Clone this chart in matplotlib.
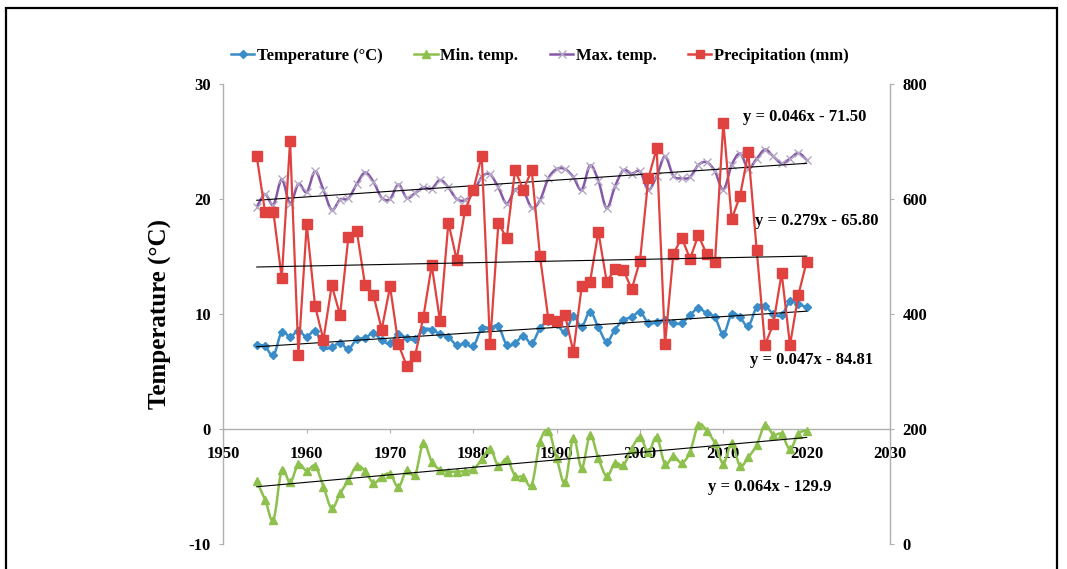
import numpy as np
import matplotlib
matplotlib.use("Agg")
import matplotlib.pyplot as plt
from matplotlib.path import Path
from matplotlib.patches import PathPatch, Rectangle
from matplotlib.lines import Line2D

plt.rcParams['font.family'] = ['Liberation Serif', 'DejaVu Serif']
plt.rcParams['font.weight'] = 'bold'
plt.rcParams['axes.unicode_minus'] = False

years = np.arange(1954, 2021)

temperature = [7.3, 7.2, 6.4, 8.45, 8.0, 8.55, 8.0, 8.55, 7.1, 7.1, 7.5, 6.95, 7.8, 7.9, 8.35, 7.7, 7.45,
               8.25, 7.9, 7.8, 8.65, 8.65, 8.25, 8.0, 7.3, 7.45, 7.2, 8.75, 8.75, 8.95, 7.3, 7.45, 8.1, 7.45,
               8.75, 9.4, 9.1, 8.45, 9.8, 8.9, 10.2, 8.85, 7.6, 8.65, 9.5, 9.7, 10.2, 9.2, 9.3, 9.5, 9.2,
               9.2, 9.9, 10.5, 10.05, 9.7, 8.25, 10.0, 9.7, 8.95, 10.6, 10.7, 10.0, 9.9, 11.1, 10.85, 10.6]

min_temp = [-4.55, -6.15, -7.9, -3.55, -4.65, -3.05, -3.65, -3.2, -5.0, -6.9, -5.6, -4.45, -3.2, -3.65, -4.7, -4.15, -3.9,
            -5.05, -3.55, -4.0, -1.2, -2.85, -3.55, -3.7, -3.7, -3.65, -3.5, -2.65, -1.7, -3.2, -2.6, -4.05, -4.15, -4.85,
            -1.1, -0.15, -2.55, -4.65, -0.75, -3.4, -0.55, -2.55, -4.1, -2.95, -3.15, -1.7, -0.7, -2.0, -0.7, -3.05, -2.35,
            -2.95, -2.0, 0.35, -0.15, -1.25, -3.0, -1.25, -3.2, -2.45, -1.4, 0.35, -0.5, -0.45, -1.75, -0.4, -0.15]

max_temp = [19.3, 20.4, 19.5, 21.7, 19.6, 21.3, 20.6, 22.4, 20.8, 19.05, 19.95, 20.05, 21.3, 22.3, 21.5, 20.1, 20.0,
            21.25, 20.1, 20.5, 21.0, 20.9, 21.65, 21.0, 20.0, 19.9, 20.6, 21.9, 22.15, 21.0, 19.6, 20.8, 20.7, 19.25,
            19.9, 21.8, 22.6, 22.6, 21.9, 20.8, 22.9, 21.6, 19.2, 21.1, 22.5, 22.2, 22.4, 20.8, 22.0, 23.7, 22.0,
            21.8, 21.9, 22.95, 23.2, 22.4, 20.8, 22.95, 23.95, 22.65, 23.5, 24.3, 23.7, 23.1, 23.5, 24.0, 23.4]

precipitation = [674, 577, 577, 462, 701, 329, 556, 414, 355, 450, 398, 534, 545, 450, 433, 373, 448,
                 347, 310, 327, 395, 485, 387, 559, 494, 581, 616, 675, 347, 558, 532, 650, 616, 650,
                 500, 391, 387, 398, 334, 448, 456, 543, 456, 478, 477, 443, 493, 636, 688, 347, 504,
                 533, 496, 537, 504, 491, 733, 565, 605, 681, 512, 346, 383, 471, 346, 433, 491]

series_names = ["Temperature (°C)", "Min. temp.", "Max. temp.", "Precipitation (mm)"]
equations = ["y = 0.046x - 71.50", "y = 0.279x - 65.80", "y = 0.047x - 84.81", "y = 0.064x - 129.9"]
x_ticks = [1950, 1960, 1970, 1980, 1990, 2000, 2010, 2020, 2030]
left_ticks = [-10, 0, 10, 20, 30]
right_ticks = [0, 200, 400, 600, 800]

C_BLUE = '#3A8DC8'
C_GREEN = '#8DC04C'
C_PURPLE = '#8559A8'
C_PURPLE_MK = '#B3A6C4'
C_RED = '#E0423F'
C_AXIS = '#B0B0B0'


def smooth_path(x, y):
    """Smoothed (Catmull-Rom style) line through the data points, like Excel's smoothed line."""
    x = np.asarray(x, float)
    y = np.asarray(y, float)
    n = len(x)
    verts = [(x[0], y[0])]
    codes = [Path.MOVETO]
    for i in range(n - 1):
        p0 = i - 1 if i > 0 else i
        p3 = i + 2 if i + 2 < n else i + 1
        c1 = (x[i] + (x[i + 1] - x[p0]) / 6, y[i] + (y[i + 1] - y[p0]) / 6)
        c2 = (x[i + 1] - (x[p3] - x[i]) / 6, y[i + 1] - (y[p3] - y[i]) / 6)
        verts += [c1, c2, (x[i + 1], y[i + 1])]
        codes += [Path.CURVE4] * 3
    return Path(verts, codes)


fig = plt.figure(figsize=(10.67, 5.69), dpi=100)
ax = fig.add_axes([0.2094, 0.0439, 0.8341 - 0.2094, 0.8524 - 0.0439])
ax2 = ax.twinx()

# Left axis series
for vals, col, mk, ms, mcol in [(max_temp, C_PURPLE, 'x', 6, C_PURPLE_MK),
                                (temperature, C_BLUE, 'D', 4.5, C_BLUE),
                                (min_temp, C_GREEN, '^', 6, C_GREEN)]:
    ax.add_patch(PathPatch(smooth_path(years, vals), fill=False, edgecolor=col, lw=1.8, zorder=3))
    ax.plot(years, vals, linestyle='none', marker=mk, ms=ms, color=mcol, mec=mcol, mew=1.0, zorder=4)
    k, b = np.polyfit(years, vals, 1)
    ax.plot([years[0], years[-1]], [k * years[0] + b, k * years[-1] + b], color='black', lw=0.8, zorder=5)

# Precipitation on right axis
ax2.plot(years, precipitation, color=C_RED, lw=1.6, marker='s', ms=6.5, mec=C_RED, zorder=3)
k, b = np.polyfit(years, precipitation, 1)
ax2.plot([years[0], years[-1]], [k * years[0] + b, k * years[-1] + b], color='black', lw=0.8, zorder=5)

ax.set_xlim(1950, 2030)
ax.set_ylim(-10, 30)
ax2.set_ylim(0, 800)
ax.set_xticks(x_ticks)
ax.set_xticklabels([str(t) for t in x_ticks])
ax.set_yticks(left_ticks)
ax.set_yticklabels([str(t) for t in left_ticks])
ax2.set_yticks(right_ticks)
ax2.set_yticklabels([str(t) for t in right_ticks])

for a in (ax, ax2):
    a.patch.set_visible(False)
    a.spines['top'].set_visible(False)
    for s in a.spines.values():
        s.set_color(C_AXIS)
        s.set_linewidth(1.0)
ax.spines['right'].set_visible(False)
ax2.spines['left'].set_visible(False)
ax2.spines['bottom'].set_visible(False)
ax.spines['bottom'].set_position(('data', 0))

ax.tick_params(axis='x', direction='out', length=3, color=C_AXIS, pad=9, labelsize=12)
ax.tick_params(axis='y', direction='out', length=3, color=C_AXIS, pad=6, labelsize=12)
ax2.tick_params(axis='y', direction='out', length=3, color=C_AXIS, pad=6, labelsize=12)

ax.set_ylabel("Temperature (°C)", fontsize=18, fontweight='bold', labelpad=12)

# Trend equations
eq_pos = [(2012.4, 27.1), (2013.8, 18.1), (2013.2, 6.0), (2008.2, -5.05)]
for txt, (xx, yy) in zip(equations, eq_pos):
    ax.text(xx, yy, txt, fontsize=12, fontweight='bold', ha='left', va='center', zorder=6)

# Legend
handles = [
    Line2D([], [], color=C_BLUE, lw=1.8, marker='D', ms=4.5),
    Line2D([], [], color=C_GREEN, lw=1.8, marker='^', ms=6),
    Line2D([], [], color=C_PURPLE, lw=1.8, marker='x', ms=6, mec=C_PURPLE_MK),
    Line2D([], [], color=C_RED, lw=1.8, marker='s', ms=6),
]
leg = fig.legend(handles, series_names, loc='center', bbox_to_anchor=(0.506, 0.9016), ncol=4,
                 frameon=False, fontsize=12, handlelength=1.4, handletextpad=0.15, columnspacing=1.9)
for t in leg.get_texts():
    t.set_fontweight('bold')

# Outer border
fig.add_artist(Rectangle((6 / 1067, -0.05), (1057 - 6) / 1067, 1 - 8 / 569 + 0.05,
                         transform=fig.transFigure, fill=False, ec='black', lw=1.6))

fig.savefig("out.png", dpi=100)
